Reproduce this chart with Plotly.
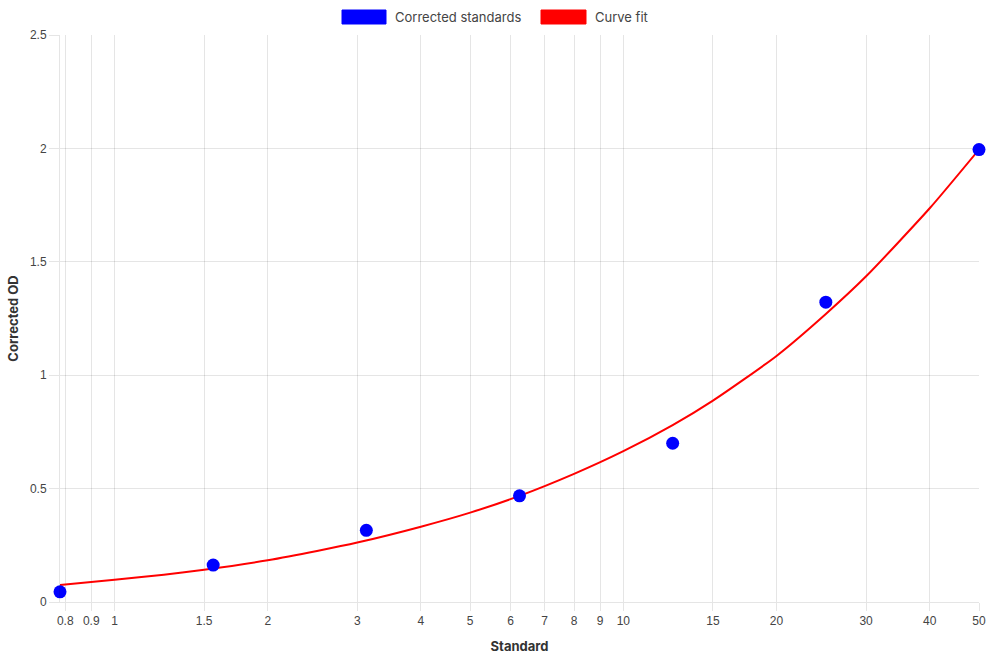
import plotly.graph_objects as go
import math

# Data
std_x = [0.78125, 1.5625, 3.125, 6.25, 12.5, 25, 50]
std_y = [0.045, 0.163, 0.316, 0.468, 0.70, 1.322, 1.995]

fit_x = [0.78125, 1, 1.25, 1.5, 2, 2.5, 3, 4, 5, 6.25, 8, 10, 12.5, 15, 20, 25, 30, 40, 50]
fit_y = [0.075, 0.098, 0.12, 0.142, 0.184, 0.225, 0.262, 0.332, 0.394, 0.468, 0.565, 0.665,
         0.78, 0.888, 1.085, 1.27, 1.436, 1.736, 1.995]

x_ticks = [0.8, 0.9, 1, 1.5, 2, 3, 4, 5, 6, 7, 8, 9, 10, 15, 20, 30, 40, 50]
x_tick_labels = ["0.8", "0.9", "1", "1.5", "2", "3", "4", "5", "6", "7", "8", "9", "10", "15", "20", "30", "40", "50"]
y_ticks = [0, 0.5, 1, 1.5, 2, 2.5]
y_tick_labels = ["0", "0.5", "1", "1.5", "2", "2.5"]

series_names = ["Corrected standards", "Curve fit"]
series_colors = ["#0000ff", "#ff0000"]

W, H = 990, 660
L, R, T, B = 60, 11, 35, 58
GRID = "rgba(0,0,0,0.1)"
TICKFONT = dict(family="Liberation Sans, Arial, sans-serif", size=12, color="#444")
TITLEFONT = dict(family="Inter, Lato, sans-serif", size=13, color="#333")

fig = go.Figure()
fig.add_trace(go.Scatter(x=fit_x, y=fit_y, mode="lines", name=series_names[1],
                         line=dict(color=series_colors[1], width=2, shape="spline", smoothing=0.6),
                         showlegend=False, cliponaxis=False))
fig.add_trace(go.Scatter(x=std_x, y=std_y, mode="markers", name=series_names[0],
                         marker=dict(color=series_colors[0], size=13, line=dict(width=0)),
                         showlegend=False, cliponaxis=False))

# Manual Chart.js-style legend
def px_to_paper_x(px):
    return (px - L) / (W - L - R)

def px_to_paper_y(py):
    return (H - B - py) / (H - T - B)

legend_items = [(342, 386, 393), (541, 586, 593)]
for (x0, x1, tx), name, col in zip(legend_items, series_names, series_colors):
    fig.add_shape(type="rect", xref="paper", yref="paper",
                  x0=px_to_paper_x(x0), x1=px_to_paper_x(x1),
                  y0=px_to_paper_y(24), y1=px_to_paper_y(10),
                  fillcolor=col, line=dict(color=col, width=1))
    fig.add_annotation(xref="paper", yref="paper", x=px_to_paper_x(tx), y=px_to_paper_y(17),
                       xanchor="left", yanchor="middle", text=name, showarrow=False,
                       font=dict(family="Inter, Lato, sans-serif", size=13, color="#444"))

fig.update_xaxes(type="log", range=[math.log10(0.78125), math.log10(50)],
                 tickvals=x_ticks, ticktext=x_tick_labels, tickfont=TICKFONT,
                 showgrid=True, gridcolor=GRID, gridwidth=1,
                 showline=True, linecolor=GRID, linewidth=1,
                 ticks="outside", ticklen=8, tickcolor=GRID,
                 zeroline=False, mirror=False, automargin=False,
                 title=dict(text="<b>Standard</b>", font=TITLEFONT, standoff=14))
fig.update_yaxes(range=[0, 2.5], tickvals=y_ticks, ticktext=y_tick_labels, tickfont=TICKFONT,
                 showgrid=True, gridcolor=GRID, gridwidth=1,
                 showline=True, linecolor=GRID, linewidth=1,
                 ticks="outside", ticklen=10, tickcolor=GRID,
                 zeroline=False, automargin=False,
                 title=dict(text="<b>Corrected OD</b>", font=TITLEFONT, standoff=8))

fig.update_layout(width=W, height=H, margin=dict(l=L, r=R, t=T, b=B),
                  plot_bgcolor="white", paper_bgcolor="white", showlegend=False)

fig.write_html("out.html")
